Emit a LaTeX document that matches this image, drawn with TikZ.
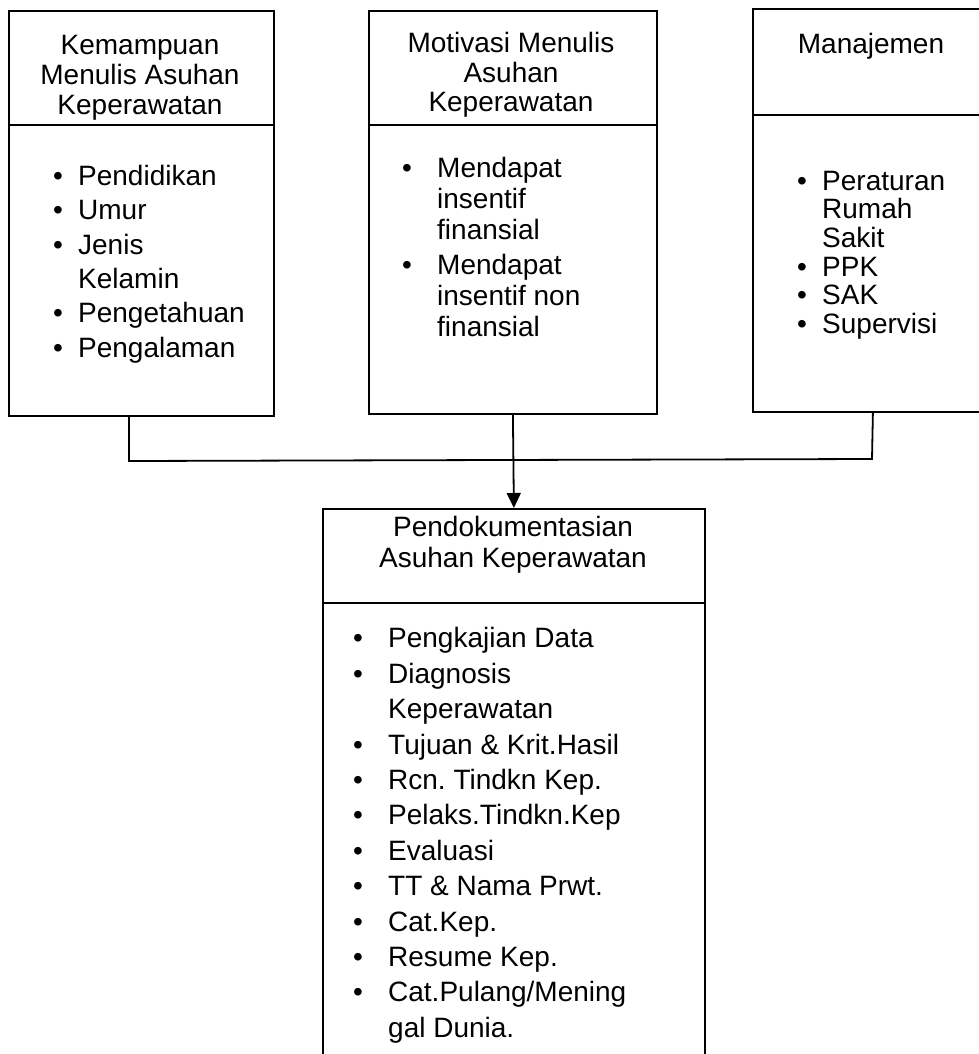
\documentclass[tikz,border=0pt]{standalone}
\usepackage{fontspec}
\setmainfont{Liberation Sans}
\usetikzlibrary{arrows.meta}
\frenchspacing
\newcommand\mybul[1]{\makebox[#1][l]{\textbullet}}
\begin{document}
\begin{tikzpicture}[x=1pt,y=-1pt,
  box/.style={draw, line width=1.8pt, rectangle, inner sep=0pt, anchor=north west},
  divider/.style={line width=1.8pt},
  conn/.style={line width=1.8pt},
  arr/.style={line width=1.8pt, -{Triangle[length=15pt,width=14pt]}},
  hdr/.style={inner sep=0pt, anchor=north},
  lst/.style={inner sep=0pt, anchor=north west}]
\path[use as bounding box] (0,0) rectangle (979,1054);
\clip (0,0) rectangle (979,1054);
\fill[white] (0,0) rectangle (979,1054);

% boxes
\node[box, minimum width=265pt, minimum height=405pt] (b1) at (8,10) {};
\node[box, minimum width=288pt, minimum height=403pt] (b2) at (368,10) {};
\node[box, minimum width=240pt, minimum height=403pt] (b3) at (752,8) {};
\node[box, minimum width=382pt, minimum height=580pt] (b4) at (322,508) {};

% header dividers
\draw[divider] (b1.west |- 0,125) -- (b1.east |- 0,125);
\draw[divider] (b2.west |- 0,125) -- (b2.east |- 0,125);
\draw[divider] (b3.west |- 0,115) -- (b3.east |- 0,115);
\draw[divider] (b4.west |- 0,603) -- (b4.east |- 0,603);

% headers
\node[hdr, font=\fontsize{28}{30}\selectfont] (h1) at (140,33)
  {\begin{tabular}{@{}c@{}}Kemampuan\\Menulis Asuhan\\Keperawatan\end{tabular}};
\node[hdr, font=\fontsize{28}{29.5}\selectfont] (h2) at (511,32)
  {\begin{tabular}{@{}c@{}}Motivasi Menulis\\Asuhan\\Keperawatan\end{tabular}};
\node[hdr, font=\fontsize{28}{30}\selectfont] (h3) at (871,32)
  {\begin{tabular}{@{}c@{}}Manajemen\end{tabular}};
\node[hdr, font=\fontsize{28}{31}\selectfont] (h4) at (513,515)
  {\begin{tabular}{@{}c@{}}Pendokumentasian\\Asuhan Keperawatan\end{tabular}};

% lists
\node[lst, font=\fontsize{28}{34.4}\selectfont] (l1) at (53,161)
  {\begin{tabular}{@{}l@{}l@{}}
   \mybul{25pt} & Pendidikan\\
   \mybul{25pt} & Umur\\
   \mybul{25pt} & Jenis\\
                & Kelamin\\
   \mybul{25pt} & Pengetahuan\\
   \mybul{25pt} & Pengalaman
   \end{tabular}};
\node[lst, font=\fontsize{28}{31}\selectfont] (l2) at (402,156)
  {\begin{tabular}{@{}l@{}l@{}}
   \mybul{35pt} & Mendapat\\
                & insentif\\
                & finansial\\[4pt]
   \mybul{35pt} & Mendapat\\
                & insentif non\\
                & finansial
   \end{tabular}};
\node[lst, font=\fontsize{28}{28.5}\selectfont] (l3) at (797,170)
  {\begin{tabular}{@{}l@{}l@{}}
   \mybul{25pt} & Peraturan\\
                & Rumah\\
                & Sakit\\
   \mybul{25pt} & PPK\\
   \mybul{25pt} & SAK\\
   \mybul{25pt} & Supervisi
   \end{tabular}};
\node[lst, font=\fontsize{28}{35.4}\selectfont] (l4) at (353,623)
  {\begin{tabular}{@{}l@{}l@{}}
   \mybul{35pt} & Pengkajian Data\\
   \mybul{35pt} & Diagnosis\\
                & Keperawatan\\
   \mybul{35pt} & Tujuan \& Krit.Hasil\\
   \mybul{35pt} & Rcn. Tindkn Kep.\\
   \mybul{35pt} & Pelaks.Tindkn.Kep\\
   \mybul{35pt} & Evaluasi\\
   \mybul{35pt} & TT \& Nama Prwt.\\
   \mybul{35pt} & Cat.Kep.\\
   \mybul{35pt} & Resume Kep.\\
   \mybul{35pt} & Cat.Pulang/Mening\\
                & gal Dunia.
   \end{tabular}};

% connectors
\coordinate (j1) at (129,461);
\coordinate (j3) at (872,459);
\draw[conn] (b1.south -| j1) -- (j1) -- (j3) -- (b3.south);
\draw[arr] (b2.south) -- (b4.north);
\end{tikzpicture}
\end{document}
